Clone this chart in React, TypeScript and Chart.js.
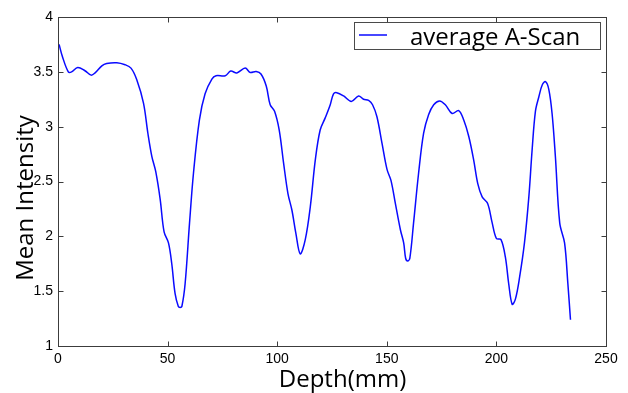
import React, { useEffect, useRef } from "react";
import { Chart, registerables } from "chart.js";

Chart.register(...registerables);

const depthMm = [
  0.5, 2.0, 4.7, 6.2, 9.0, 12.3, 15.1, 16.9, 20.0, 22.2, 26.8, 30.6, 33.3, 35.9, 39.0, 41.0, 42.8, 44.6,
  46.6, 48.4, 50.4, 51.9, 53.4, 54.9, 55.7, 56.5, 58.0, 60.0, 61.8, 64.5, 67.1, 70.2, 72.1, 76.3, 78.8,
  81.6, 85.4, 87.7, 90.4, 92.6, 95.0, 96.8, 98.8, 100.9, 102.9, 104.9, 106.7, 108.5, 110.5, 112.8,
  115.1, 117.4, 119.6, 121.9, 124.2, 125.7, 127.2, 130.3, 133.8, 137.1, 139.4, 141.7, 143.5, 145.5,
  147.8, 150.1, 151.9, 153.9, 156.2, 157.7, 158.6, 159.5, 160.5, 162.2, 164.5, 166.8, 169.1, 171.4, 174.1,
  176.7, 179.8, 182.8, 185.1, 187.4, 189.6, 191.5, 193.5, 196.0, 198.0, 200.0, 202.1, 204.1, 205.6,
  207.2, 208.7, 210.6, 212.8, 214.8, 216.3, 217.8, 219.4, 220.9, 222.4, 223.9, 225.4, 226.9, 228.9,
  231.1, 232.6, 233.8,
];

const meanIntensity = [
  3.75, 3.64, 3.5, 3.5, 3.54, 3.51, 3.47, 3.49, 3.555, 3.576, 3.583, 3.565, 3.534, 3.43, 3.215, 2.94,
  2.73, 2.59, 2.34, 2.04, 1.94, 1.75, 1.48, 1.36, 1.352, 1.36, 1.57, 2.12, 2.575, 3.06, 3.3, 3.434,
  3.464, 3.464, 3.507, 3.49, 3.534, 3.494, 3.503, 3.48, 3.37, 3.2, 3.14, 2.97, 2.67, 2.39, 2.24, 2.03,
  1.84, 1.97, 2.27, 2.7, 2.97, 3.08, 3.2, 3.3, 3.31, 3.28, 3.23, 3.28, 3.25, 3.24, 3.2, 3.09, 2.85,
  2.61, 2.51, 2.3, 2.06, 1.94, 1.8, 1.775, 1.8, 2.12, 2.575, 2.94, 3.11, 3.2, 3.235, 3.2, 3.12, 3.147, 3.06,
  2.91, 2.7, 2.48, 2.36, 2.3, 2.13, 1.98, 1.97, 1.81, 1.57, 1.38, 1.43, 1.63, 1.94, 2.36, 2.79, 3.14,
  3.275, 3.38, 3.41, 3.34, 3.12, 2.73, 2.12, 1.94, 1.57, 1.24,
];

const xTicks = [0, 50, 100, 150, 200, 250];
const yTicks = [1, 1.5, 2, 2.5, 3, 3.5, 4];
const seriesLabel = "average A-Scan";
const xTitle = "Depth(mm)";
const yTitle = "Mean Intensity";

const TITLE_FONT = '24px "Open Sans", sans-serif';
const TICK_FONT = { family: '"Liberation Sans", Arial, sans-serif', size: 14 };
const AXIS_COLOR = "#3c3c3c";
const LINE_COLOR = "#0a0aff";

const framePlugin = {
  id: "frameDecor",
  afterDraw(chart: any) {
    const { ctx, chartArea: a, scales } = chart;
    const xs = scales.x;
    const ys = scales.y;
    const L = Math.round(a.left) + 0.5;
    const R = Math.round(a.right) + 0.5;
    const T = Math.round(a.top) + 0.5;
    const B = Math.round(a.bottom) + 0.5;
    const tl = 5;
    ctx.save();
    ctx.strokeStyle = AXIS_COLOR;
    ctx.lineWidth = 1;
    ctx.strokeRect(L, T, R - L, B - T);
    ctx.beginPath();
    xTicks.forEach((v) => {
      const px = Math.round(xs.getPixelForValue(v)) + 0.5;
      ctx.moveTo(px, B);
      ctx.lineTo(px, B - tl);
      ctx.moveTo(px, T);
      ctx.lineTo(px, T + tl);
    });
    yTicks.forEach((v) => {
      const py = Math.round(ys.getPixelForValue(v)) + 0.5;
      ctx.moveTo(L, py);
      ctx.lineTo(L + tl, py);
      ctx.moveTo(R, py);
      ctx.lineTo(R - tl, py);
    });
    ctx.stroke();

    // axis titles
    ctx.fillStyle = "#000";
    ctx.font = TITLE_FONT;
    ctx.textAlign = "center";
    ctx.textBaseline = "alphabetic";
    ctx.fillText(xTitle, 342.5, 387);
    ctx.save();
    ctx.translate(33, 198);
    ctx.rotate(-Math.PI / 2);
    ctx.fillText(yTitle, 0, 0);
    ctx.restore();

    // legend
    const bx = 354.5, by = 22.5, bw = 246, bh = 27;
    ctx.fillStyle = "#fff";
    ctx.fillRect(bx, by, bw, bh);
    ctx.strokeStyle = "#4a4a4a";
    ctx.strokeRect(bx, by, bw, bh);
    ctx.strokeStyle = LINE_COLOR;
    ctx.lineWidth = 1.5;
    ctx.beginPath();
    ctx.moveTo(359, 35);
    ctx.lineTo(387, 35);
    ctx.stroke();
    ctx.fillStyle = "#000";
    ctx.font = TITLE_FONT;
    ctx.textAlign = "left";
    ctx.fillText(seriesLabel, 410, 44.5);
    ctx.restore();
  },
};

export default function App() {
  const ref = useRef<HTMLCanvasElement | null>(null);
  useEffect(() => {
    if (!ref.current) return;
    const chart = new Chart(ref.current, {
      type: "line",
      data: {
        datasets: [
          {
            label: seriesLabel,
            data: depthMm.map((d, i) => ({ x: d, y: meanIntensity[i] })),
            borderColor: LINE_COLOR,
            borderWidth: 1.5,
            pointRadius: 0,
            tension: 0.35,
            fill: false,
          },
        ],
      },
      options: {
        animation: false,
        responsive: false,
        maintainAspectRatio: false,
        layout: { padding: { left: 0, top: 17, right: 22, bottom: 0 } },
        plugins: { legend: { display: false }, tooltip: { enabled: false } },
        scales: {
          x: {
            type: "linear",
            min: 0,
            max: 250,
            afterFit: (s: any) => {
              s.height = 47;
            },
            afterBuildTicks: (s: any) => {
              s.ticks = xTicks.map((v) => ({ value: v }));
            },
            grid: { display: false, drawTicks: false },
            border: { display: false },
            ticks: { font: TICK_FONT, color: "#000", padding: 5, maxRotation: 0, autoSkip: false },
          },
          y: {
            type: "linear",
            min: 1,
            max: 4,
            afterFit: (s: any) => {
              s.width = 58;
            },
            afterBuildTicks: (s: any) => {
              s.ticks = yTicks.map((v) => ({ value: v }));
            },
            grid: { display: false, drawTicks: false },
            border: { display: false },
            ticks: {
              font: TICK_FONT,
              color: "#000",
              padding: 5,
              autoSkip: false,
              callback: (v: any) => String(v),
            },
          },
        },
      },
      plugins: [framePlugin],
    });
    return () => chart.destroy();
  }, []);
  return (
    <div style={{ position: "fixed", left: 0, top: 0, width: 628, height: 393, background: "#fff" }}>
      <canvas ref={ref} width={628} height={393} style={{ width: 628, height: 393, display: "block" }} />
    </div>
  );
}
